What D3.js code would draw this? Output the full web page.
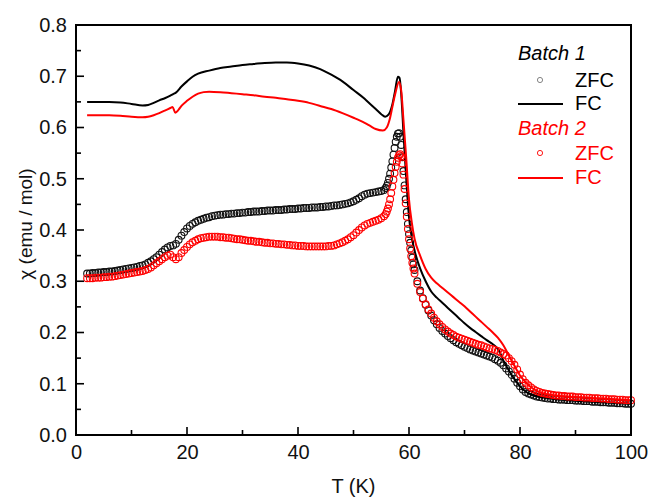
<!DOCTYPE html>
<html>
<head>
<meta charset="utf-8">
<script src="https://cdn.jsdelivr.net/npm/d3@7"></script>
<style>
  body { margin: 0; background: #fff; }
  .canvas { position: relative; width: 652px; height: 499px; }
  .frame { position: absolute; left: 75px; top: 24px; width: 557px; height: 412px;
           box-sizing: border-box; border: 2px solid #000; pointer-events: none; }
  svg text { font-family: "Liberation Sans", Arial, sans-serif; }
</style>
</head>
<body>
<div class="canvas"><div class="frame"></div></div>
<script>
// Data

// temperature grid of the ZFC sweeps (K)
const tZfc = [
  2, 2.5, 3, 3.5, 4, 4.5, 5, 5.5, 6, 6.5, 7, 7.5, 8, 8.5, 9, 9.5, 10, 10.5, 11, 11.5,
  12, 12.5, 13, 13.5, 14, 14.5, 15, 15.5, 16, 16.5, 17, 17.5, 18, 18.5, 19, 19.5, 20, 20.5, 21, 21.5,
  22, 22.5, 23, 23.5, 24, 24.5, 25, 25.5, 26, 26.5, 27, 27.5, 28, 28.5, 29, 29.5, 30, 30.5, 31, 31.5,
  32, 32.5, 33, 33.5, 34, 34.5, 35, 35.5, 36, 36.5, 37, 37.5, 38, 38.5, 39, 39.5, 40, 40.5, 41, 41.5,
  42, 42.5, 43, 43.5, 44, 44.5, 45, 45.5, 46, 46.5, 47, 47.5, 48, 48.5, 49, 49.5, 50, 50.5, 51, 51.5,
  52, 52.5, 53, 53.5, 54, 54.5, 55, 55.5,
  55.8, 56, 56.2, 56.4, 56.6, 56.8, 57, 57.2, 57.4, 57.6, 57.8, 58, 58.2, 58.4, 58.6, 58.8,
  59, 59.2, 59.4, 59.6, 59.8, 60, 60.2, 60.4, 60.6, 60.8, 61,
  61.5, 62, 62.5, 63, 63.5, 64, 64.5, 65, 65.5, 66, 66.5, 67, 67.5, 68, 68.5, 69, 69.5, 70, 70.5,
  71, 71.5, 72, 72.5, 73, 73.5, 74, 74.5, 75, 75.5, 76, 76.5, 77, 77.5, 78, 78.5, 79, 79.5, 80, 80.5,
  81, 81.5, 82, 82.5, 83, 83.5, 84, 84.5, 85, 85.5, 86, 86.5, 87, 87.5, 88, 88.5, 89, 89.5, 90, 90.5,
  91, 91.5, 92, 92.5, 93, 93.5, 94, 94.5, 95, 95.5, 96, 96.5, 97, 97.5, 98, 98.5, 99, 99.5, 100
];

// Batch 1 ZFC (emu/mol)
const zfc1 = [
  0.315, 0.315, 0.316, 0.316, 0.317, 0.317, 0.318, 0.318, 0.319, 0.319, 0.320, 0.321, 0.322, 0.323, 0.324, 0.325, 0.326, 0.327, 0.328, 0.330,
  0.331, 0.333, 0.336, 0.339, 0.343, 0.347, 0.352, 0.357, 0.362, 0.366, 0.369, 0.370, 0.373, 0.381, 0.389, 0.396, 0.403, 0.408, 0.412, 0.415,
  0.418, 0.420, 0.422, 0.424, 0.425, 0.427, 0.428, 0.429, 0.430, 0.430, 0.431, 0.431, 0.432, 0.432, 0.433, 0.433, 0.434, 0.434, 0.435, 0.435,
  0.436, 0.436, 0.436, 0.437, 0.437, 0.438, 0.438, 0.438, 0.439, 0.439, 0.439, 0.440, 0.440, 0.441, 0.441, 0.441, 0.442, 0.442, 0.443, 0.443,
  0.443, 0.444, 0.444, 0.444, 0.445, 0.445, 0.446, 0.446, 0.447, 0.448, 0.448, 0.449, 0.450, 0.451, 0.452, 0.454, 0.456, 0.459, 0.462, 0.466,
  0.469, 0.471, 0.472, 0.473, 0.474, 0.475, 0.476, 0.478,
  0.482, 0.486, 0.492, 0.500, 0.510, 0.522, 0.534, 0.547, 0.560, 0.572, 0.582, 0.588, 0.589, 0.582, 0.566, 0.542,
  0.515, 0.487, 0.460, 0.435, 0.412, 0.392, 0.375, 0.360, 0.346, 0.333, 0.322,
  0.300, 0.282, 0.267, 0.254, 0.243, 0.233, 0.224, 0.216, 0.209, 0.203, 0.198, 0.193, 0.189, 0.185, 0.181, 0.178, 0.175, 0.172, 0.170,
  0.167, 0.165, 0.163, 0.161, 0.159, 0.157, 0.155, 0.153, 0.151, 0.148, 0.145, 0.141, 0.136, 0.130, 0.124, 0.117, 0.110, 0.102, 0.095, 0.089,
  0.084, 0.081, 0.079, 0.077, 0.075, 0.074, 0.073, 0.072, 0.071, 0.071, 0.070, 0.070, 0.069, 0.069, 0.069, 0.068, 0.068, 0.068, 0.067, 0.067,
  0.067, 0.066, 0.066, 0.066, 0.065, 0.065, 0.065, 0.064, 0.064, 0.064, 0.063, 0.063, 0.063, 0.062, 0.062, 0.062, 0.061, 0.061, 0.061
];

// Batch 2 ZFC (emu/mol)
const zfc2 = [
  0.306, 0.306, 0.306, 0.307, 0.307, 0.307, 0.308, 0.308, 0.309, 0.309, 0.310, 0.311, 0.312, 0.313, 0.314, 0.315, 0.316, 0.317, 0.318, 0.319,
  0.320, 0.322, 0.324, 0.327, 0.331, 0.335, 0.339, 0.343, 0.347, 0.350, 0.352, 0.347, 0.343, 0.347, 0.355, 0.361, 0.367, 0.372, 0.376, 0.379,
  0.382, 0.384, 0.385, 0.386, 0.387, 0.387, 0.387, 0.387, 0.386, 0.386, 0.385, 0.385, 0.384, 0.383, 0.382, 0.382, 0.381, 0.380, 0.379, 0.379,
  0.378, 0.377, 0.377, 0.376, 0.375, 0.375, 0.374, 0.374, 0.373, 0.373, 0.372, 0.372, 0.371, 0.371, 0.370, 0.370, 0.369, 0.369, 0.369, 0.368,
  0.368, 0.368, 0.368, 0.368, 0.368, 0.368, 0.368, 0.369, 0.369, 0.370, 0.372, 0.374, 0.376, 0.379, 0.382, 0.386, 0.390, 0.395, 0.400, 0.405,
  0.409, 0.412, 0.414, 0.416, 0.418, 0.420, 0.423, 0.427,
  0.431, 0.436, 0.442, 0.450, 0.460, 0.472, 0.485, 0.498, 0.511, 0.523, 0.533, 0.541, 0.546, 0.548, 0.544, 0.530,
  0.508, 0.480, 0.452, 0.426, 0.402, 0.382, 0.364, 0.349, 0.336, 0.325, 0.315,
  0.295, 0.279, 0.266, 0.255, 0.245, 0.237, 0.229, 0.222, 0.216, 0.211, 0.206, 0.202, 0.198, 0.195, 0.192, 0.190, 0.188, 0.186, 0.184,
  0.182, 0.180, 0.178, 0.176, 0.175, 0.173, 0.171, 0.169, 0.168, 0.166, 0.164, 0.161, 0.158, 0.155, 0.150, 0.144, 0.137, 0.128, 0.118, 0.109,
  0.102, 0.097, 0.093, 0.089, 0.086, 0.084, 0.082, 0.081, 0.080, 0.079, 0.078, 0.077, 0.077, 0.076, 0.076, 0.075, 0.075, 0.075, 0.074, 0.074,
  0.074, 0.073, 0.073, 0.073, 0.072, 0.072, 0.072, 0.071, 0.071, 0.071, 0.070, 0.070, 0.070, 0.069, 0.069, 0.069, 0.068, 0.068, 0.068
];

// Batch 1 FC
const tFc1 = [2, 4, 6, 8, 10, 12, 13, 14, 15, 16, 17, 17.5, 18, 19, 20, 21, 22, 24, 26, 28, 30, 32, 34, 36, 38,
  40, 42, 44, 46, 48, 50, 52, 53, 54, 55, 55.7, 56.3, 57, 57.5, 58, 58.3, 58.6, 59, 59.5, 60, 60.5, 61, 62, 63,
  64, 65, 66, 67, 68, 69, 70, 71, 72, 73, 74, 75, 76, 76.5, 77, 78, 79, 80, 81, 82, 85, 90, 95, 100];
const fc1 = [0.650, 0.650, 0.650, 0.649, 0.646, 0.643, 0.644, 0.648, 0.653, 0.657, 0.662, 0.665, 0.668, 0.680, 0.690, 0.699, 0.705, 0.711, 0.716, 0.719, 0.722, 0.724, 0.726, 0.727, 0.727,
  0.725, 0.721, 0.714, 0.703, 0.690, 0.673, 0.656, 0.646, 0.636, 0.626, 0.621, 0.625, 0.645, 0.672, 0.699, 0.697, 0.665, 0.590, 0.500, 0.425, 0.385, 0.360, 0.325, 0.300,
  0.280, 0.268, 0.258, 0.248, 0.238, 0.228, 0.218, 0.209, 0.201, 0.193, 0.185, 0.178, 0.168, 0.158, 0.145, 0.126, 0.109, 0.095, 0.085, 0.079, 0.072, 0.067, 0.064, 0.061];

// Batch 2 FC
const tFc2 = [2, 4, 6, 8, 10, 12, 13, 14, 15, 16, 17, 17.4, 17.9, 18.5, 19, 20, 21, 22, 23, 24, 26, 28, 30, 32, 34, 36, 38,
  40, 42, 44, 46, 48, 50, 52, 53, 54, 55.3, 56, 56.5, 57, 57.5, 58.2, 58.6, 59, 59.5, 60, 60.5, 61, 62, 63,
  64, 65, 66, 67, 68, 69, 70, 71, 72, 73, 74, 75, 76, 77, 78, 79, 80, 81, 82, 83, 85, 90, 95, 100];
const fc2 = [0.624, 0.624, 0.624, 0.623, 0.621, 0.620, 0.621, 0.624, 0.628, 0.633, 0.638, 0.640, 0.629, 0.635, 0.642, 0.652, 0.660, 0.666, 0.669, 0.670, 0.669, 0.667, 0.665, 0.663, 0.660, 0.658, 0.655,
  0.652, 0.648, 0.642, 0.636, 0.628, 0.619, 0.609, 0.603, 0.597, 0.594, 0.600, 0.615, 0.640, 0.665, 0.689, 0.672, 0.615, 0.540, 0.460, 0.415, 0.383, 0.350, 0.324,
  0.307, 0.296, 0.287, 0.278, 0.269, 0.260, 0.251, 0.241, 0.231, 0.221, 0.211, 0.201, 0.190, 0.175, 0.155, 0.135, 0.116, 0.103, 0.093, 0.086, 0.079, 0.074, 0.071, 0.068];

const xMajor = [0, 20, 40, 60, 80, 100];
const xMinor = [10, 30, 50, 70, 90];
const yMajor = [0.0, 0.1, 0.2, 0.3, 0.4, 0.5, 0.6, 0.7, 0.8];
const yMinor = [0.05, 0.15, 0.25, 0.35, 0.45, 0.55, 0.65, 0.75];

// Layout

const margin = { top: 25, right: 21, bottom: 64, left: 76 };
const width = 652 - margin.left - margin.right;
const height = 499 - margin.top - margin.bottom;

const x = d3.scaleLinear().domain([0, 100]).range([0, width]);
const y = d3.scaleLinear().domain([0, 0.8]).range([height, 0]);

const root = d3.select(".canvas")
  .append("svg")
    .attr("width", 652)
    .attr("height", 499)
    .style("position", "absolute")
    .style("left", "0px")
    .style("top", "0px");

const svg = root.append("g")
    .attr("transform", `translate(${margin.left}, ${margin.top})`);

const zfcPts1 = tZfc.map((t, i) => [t, zfc1[i]]);
const zfcPts2 = tZfc.map((t, i) => [t, zfc2[i]]);
const fcPts1 = tFc1.map((t, i) => [t, fc1[i]]);
const fcPts2 = tFc2.map((t, i) => [t, fc2[i]]);

const line = d3.line()
  .x(d => x(d[0]))
  .y(d => y(d[1]))
  .curve(d3.curveMonotoneX);

// Batch 1 ZFC circles
svg.append("g").selectAll("circle")
  .data(zfcPts1)
  .join("circle")
    .attr("cx", d => x(d[0]))
    .attr("cy", d => y(d[1]))
    .attr("r", 3.4)
    .attr("fill", "none")
    .attr("stroke", "#111")
    .attr("stroke-width", 1.1);

// Batch 1 FC
svg.append("path")
  .datum(fcPts1)
  .attr("fill", "none")
  .attr("stroke", "#000")
  .attr("stroke-width", 2)
  .attr("d", line);

// Batch 2 ZFC circles
svg.append("g").selectAll("circle")
  .data(zfcPts2)
  .join("circle")
    .attr("cx", d => x(d[0]))
    .attr("cy", d => y(d[1]))
    .attr("r", 3.4)
    .attr("fill", "none")
    .attr("stroke", "#ff0000")
    .attr("stroke-width", 1.1);

// Batch 2 FC
svg.append("path")
  .datum(fcPts2)
  .attr("fill", "none")
  .attr("stroke", "#ff0000")
  .attr("stroke-width", 2)
  .attr("d", line);

// Axes: labels from d3 axes, inward ticks as solid bars

svg.append("g")
  .attr("transform", `translate(0, ${height})`)
  .call(d3.axisBottom(x).tickValues(xMajor).tickSize(0).tickPadding(10).tickFormat(d3.format("d")));
svg.append("g")
  .call(d3.axisLeft(y).tickValues(yMajor).tickSize(0).tickPadding(9).tickFormat(d3.format(".1f")));
svg.selectAll(".domain").remove();
svg.selectAll(".tick text").attr("font-size", 20).attr("fill", "#111");

const bars = svg.append("g").attr("fill", "#000");

const xTicks = xMajor.map(v => ({ v, len: 8 })).concat(xMinor.map(v => ({ v, len: 5 })));
const yTicks = yMajor.map(v => ({ v, len: 8 })).concat(yMinor.map(v => ({ v, len: 5 })));

bars.selectAll("rect.xt")
  .data(xTicks)
  .join("rect")
    .attr("class", "xt")
    .attr("x", d => x(d.v) - 0.8)
    .attr("y", d => y(0) - d.len)
    .attr("width", 1.6)
    .attr("height", d => d.len);

bars.selectAll("rect.yt")
  .data(yTicks)
  .join("rect")
    .attr("class", "yt")
    .attr("x", x(0))
    .attr("y", d => y(d.v) - 0.8)
    .attr("width", d => d.len)
    .attr("height", 1.6);

// frame edges
const edges = [
  { x0: 0, x1: 100, y0: 0, y1: 0 },
  { x0: 0, x1: 100, y0: 0.8, y1: 0.8 },
  { x0: 0, x1: 0, y0: 0, y1: 0.8 },
  { x0: 100, x1: 100, y0: 0, y1: 0.8 }
];
bars.selectAll("rect.edge")
  .data(edges)
  .join("rect")
    .attr("class", "edge")
    .attr("x", d => x(d.x0) - 1)
    .attr("y", d => y(d.y1) - 1)
    .attr("width", d => x(d.x1) - x(d.x0) + 2)
    .attr("height", d => y(d.y0) - y(d.y1) + 2);

// axis titles
svg.append("text")
  .attr("x", width / 2)
  .attr("y", height + 58)
  .attr("text-anchor", "middle")
  .attr("font-size", 20)
  .attr("fill", "#111")
  .text("T (K)");

svg.append("text")
  .attr("transform", `translate(${32 - margin.left}, ${224 - margin.top}) rotate(-90)`)
  .attr("text-anchor", "middle")
  .attr("font-size", 19)
  .attr("fill", "#111")
  .text("χ (emu / mol)");

// Legend

const legend = svg.append("g")
  .attr("transform", `translate(${518 - margin.left}, ${-margin.top})`);

const legendRows = [
  { kind: "title", label: "Batch 1", color: "#000", y: 60 },
  { kind: "circle", label: "ZFC", color: "#777", text: "#000", y: 87 },
  { kind: "line", label: "FC", color: "#000", y: 110 },
  { kind: "title", label: "Batch 2", color: "#ff0000", y: 135 },
  { kind: "circle", label: "ZFC", color: "#ff0000", text: "#ff0000", y: 160 },
  { kind: "line", label: "FC", color: "#ff0000", y: 184 }
];

legendRows.forEach(r => {
  if (r.kind === "title") {
    legend.append("text")
      .attr("x", 0).attr("y", r.y)
      .attr("font-size", 20)
      .attr("font-style", "italic")
      .attr("fill", r.color)
      .text(r.label);
    return;
  }
  if (r.kind === "circle") {
    legend.append("circle")
      .attr("cx", 22).attr("cy", r.y - 7)
      .attr("r", 2.6)
      .attr("fill", "none")
      .attr("stroke", r.color)
      .attr("stroke-width", 0.9);
  } else {
    legend.append("line")
      .attr("x1", 0).attr("x2", 45)
      .attr("y1", r.y - 6).attr("y2", r.y - 6)
      .attr("stroke", r.color)
      .attr("stroke-width", 2);
  }
  legend.append("text")
    .attr("x", 57).attr("y", r.y)
    .attr("font-size", 20)
    .attr("fill", r.text || r.color)
    .text(r.label);
});
</script>
</body>
</html>
